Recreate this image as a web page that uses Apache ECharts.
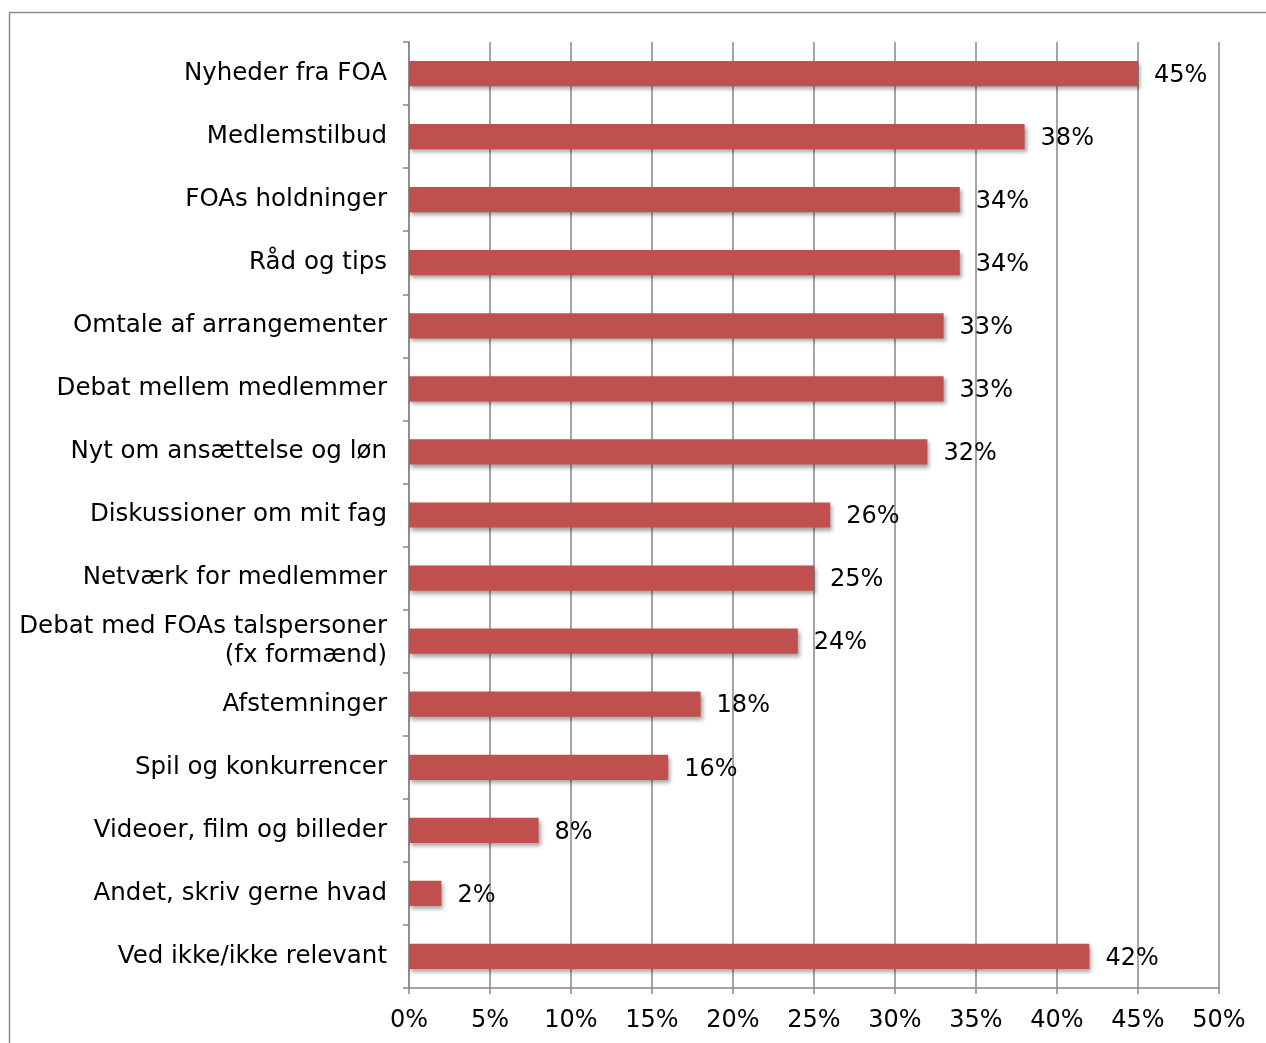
<!DOCTYPE html>
<html>
<head>
<meta charset="utf-8">
<script src="https://cdn.jsdelivr.net/npm/echarts@6/dist/echarts.min.js"></script>
<style>
html,body{margin:0;padding:0;background:#fff;}
#chart{width:1266px;height:1043px;}
</style>
</head>
<body>
<div id="chart"></div>
<script>
const categories = [
  "Nyheder fra FOA",
  "Medlemstilbud",
  "FOAs holdninger",
  "Råd og tips",
  "Omtale af arrangementer",
  "Debat mellem medlemmer",
  "Nyt om ansættelse og løn",
  "Diskussioner om mit fag",
  "Netværk for medlemmer",
  "Debat med FOAs talspersoner\n(fx formænd)",
  "Afstemninger",
  "Spil og konkurrencer",
  "Videoer, film og billeder",
  "Andet, skriv gerne hvad",
  "Ved ikke/ikke relevant"
];
const values = [45, 38, 34, 34, 33, 33, 32, 26, 25, 24, 18, 16, 8, 2, 42];

const chart = echarts.init(document.getElementById('chart'));
const font = 'Verdana, "DejaVu Sans", sans-serif';
chart.setOption({
  animation: false,
  graphic: [{
    type: 'rect',
    shape: { x: 9.5, y: 12.5, width: 1300, height: 1100 },
    style: { fill: 'none', stroke: '#8c8c8c', lineWidth: 1.5 },
    silent: true
  }],
  grid: { left: 409, right: 47, top: 42, bottom: 55, containLabel: false },
  xAxis: {
    type: 'value',
    min: 0, max: 50, interval: 5,
    axisLine: { show: true, lineStyle: { color: '#878787', width: 1.5 } },
    axisTick: { show: true, length: 6, lineStyle: { color: '#878787', width: 1.5 } },
    axisLabel: { formatter: '{value}%', color: '#000', fontFamily: font, fontSize: 24, margin: 21 },
    splitLine: { show: true, lineStyle: { color: '#878787', width: 1.5 } }
  },
  yAxis: {
    type: 'category',
    inverse: true,
    data: categories,
    axisLine: { show: true, lineStyle: { color: '#878787', width: 1.5 } },
    axisTick: { show: true, length: 6, lineStyle: { color: '#878787', width: 1.5 } },
    axisLabel: { color: '#000', fontFamily: font, fontSize: 24.5, margin: 22, lineHeight: 29, align: 'right' }
  },
  series: [{
    type: 'bar',
    data: values,
    barCategoryGap: '60%',
    itemStyle: {
      color: '#C0504D',
      shadowColor: 'rgba(0,0,0,0.35)',
      shadowBlur: 4,
      shadowOffsetX: 2,
      shadowOffsetY: 3
    },
    label: {
      show: true,
      position: 'right',
      distance: 16,
      offset: [0, 2],
      formatter: '{c}%',
      color: '#000',
      fontFamily: font,
      fontSize: 24
    }
  }]
});
</script>
</body>
</html>
